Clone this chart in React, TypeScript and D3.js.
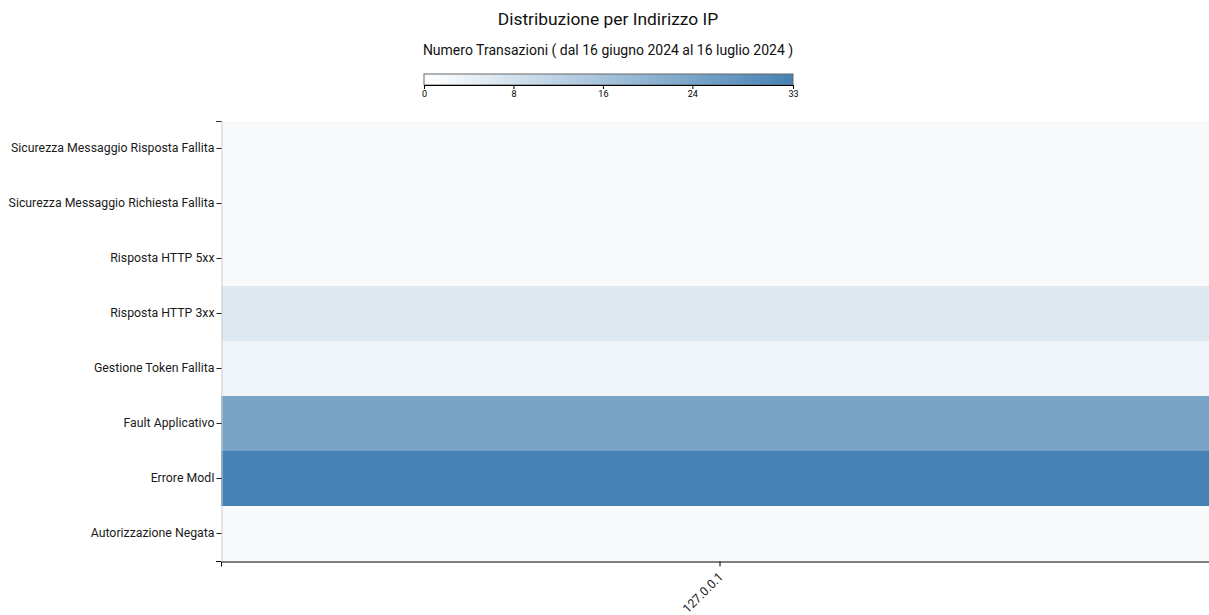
import React, { useEffect, useRef } from "react";
import * as d3 from "d3";

const categories = [
  "Autorizzazione Negata",
  "Errore ModI",
  "Fault Applicativo",
  "Gestione Token Fallita",
  "Risposta HTTP 3xx",
  "Risposta HTTP 5xx",
  "Sicurezza Messaggio Richiesta Fallita",
  "Sicurezza Messaggio Risposta Fallita",
];
const ips = ["127.0.0.1"];
const values = [0, 33, 24, 3, 6, 0, 0, 0];
const legendTicks = [0, 8, 16, 24, 33];
const title = "Distribuzione per Indirizzo IP";
const subtitle = "Numero Transazioni ( dal 16 giugno 2024 al 16 luglio 2024 )";

export default function App() {
  const ref = useRef<SVGSVGElement>(null);
  useEffect(() => {
    const svg = d3.select(ref.current);
    svg.selectAll("*").remove();
    const W = 1209, H = 615;
    const off = 8;
    const m = { left: 213 + off, top: 113 + off };
    const pw = 998, ph = 440;
    svg.attr("width", W).attr("height", H).style("font-family", "Roboto, sans-serif");

    const maxV = 33;
    const color = d3.scaleSequential(d3.interpolateRgb("white", "steelblue")).domain([0, maxV]);

    svg.append("text").attr("x", 608).attr("y", 17 + off).attr("text-anchor", "middle")
      .attr("font-size", 17.4).attr("fill", "#111").text(title);
    svg.append("text").attr("x", 608).attr("y", 47 + off).attr("text-anchor", "middle")
      .attr("font-size", 14).attr("fill", "#111").text(subtitle);

    // legend
    const lx = 424, ly = 74, lw = 369, lh = 11;
    const defs = svg.append("defs");
    const grad = defs.append("linearGradient").attr("id", "lg");
    d3.range(0, 1.0001, 0.1).forEach((t) => {
      grad.append("stop").attr("offset", `${t * 100}%`).attr("stop-color", color(t * maxV));
    });
    svg.append("rect").attr("x", lx).attr("y", ly).attr("width", lw).attr("height", lh)
      .attr("fill", "url(#lg)").attr("stroke", "#666").attr("stroke-width", 1);
    const ls = d3.scaleLinear().domain([0, maxV]).range([0, lw]);
    const lax = svg.append("g").attr("transform", `translate(${lx},${ly + lh})`)
      .call(d3.axisBottom(ls).tickValues(legendTicks).tickSize(4).tickPadding(2).tickSizeOuter(0).tickFormat(d3.format("d")));
    lax.selectAll("text").attr("font-size", 9).attr("font-family", "Roboto, sans-serif");

    const g = svg.append("g").attr("transform", `translate(${m.left},${m.top})`);
    const x = d3.scaleBand().domain(ips).range([0, pw]);
    const y = d3.scaleBand().domain(categories).range([ph, 0]);

    const cells = categories.map((c, i) => ({ c, ip: ips[0], v: values[i] }));
    g.selectAll("rect.cell").data(cells).join("rect").attr("class", "cell")
      .attr("x", (d) => x(d.ip)!).attr("y", (d) => y(d.c)!)
      .attr("width", x.bandwidth()).attr("height", y.bandwidth())
      .attr("fill", (d) => (d.v > 0 ? color(d.v) : "#f8f9fb"));

    const yAx = g.append("g").attr("transform", "translate(0.5,0)").call(d3.axisLeft(y).tickSize(5).tickPadding(2));
    yAx.selectAll("text").attr("font-size", 12.3).attr("fill", "#1a1a1a").attr("font-family", "Roboto, sans-serif");
    yAx.select(".domain").attr("stroke", "#d0d0d0");
    yAx.selectAll(".tick line").attr("stroke", "#222");
    g.append("line").attr("x1", -5).attr("x2", 0.5).attr("y1", 0.5).attr("y2", 0.5).attr("stroke", "#333");

    const xAx = g.append("g").attr("transform", `translate(0,${ph + 0.5})`).call(d3.axisBottom(x).tickSize(5));
    xAx.select(".domain").attr("stroke", "#000");
    xAx.selectAll("text").attr("font-size", 12.3).attr("fill", "#1a1a1a").attr("font-family", "Roboto, sans-serif")
      .attr("text-anchor", "end").attr("y", 0).attr("dy", 0).attr("dx", 0)
      .attr("transform", "translate(4,16) rotate(-45)");
    g.append("line").attr("x1", -5).attr("x2", 0).attr("y1", ph + 0.5).attr("y2", ph + 0.5).attr("stroke", "#000");
  }, []);
  return <svg ref={ref} style={{ display: "block", position: "absolute", left: 0, top: 0, overflow: "hidden" }} />;
}
